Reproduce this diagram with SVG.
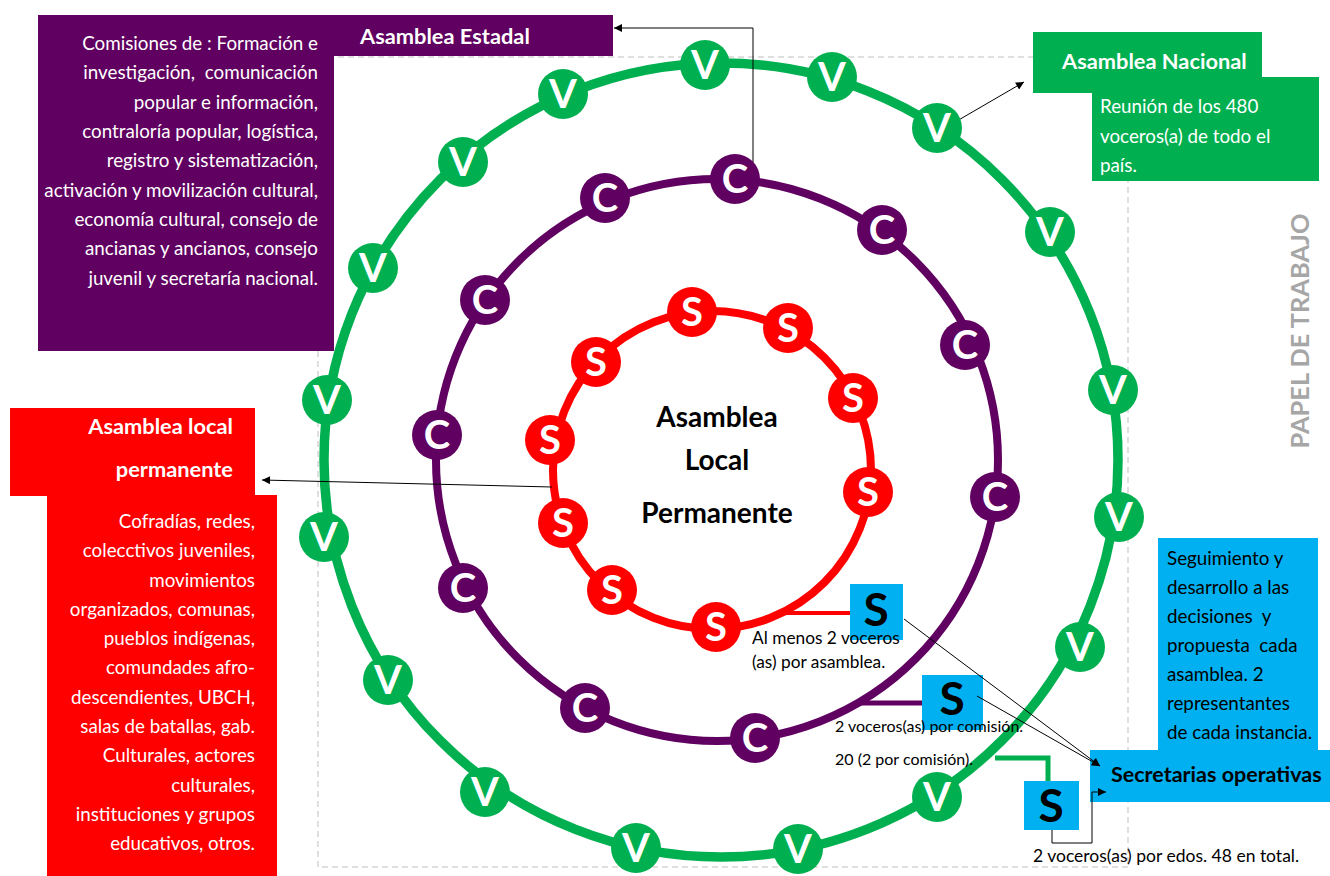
<svg xmlns="http://www.w3.org/2000/svg" width="1330" height="876" viewBox="0 0 1330 876">
<style>
.t{font-family:Lato,"Open Sans","Liberation Sans",sans-serif}
.b{font-weight:700}
.w{fill:#fff}
.k{fill:#000}
.txt{font-size:18.8px}
.hd{font-size:21.8px;font-weight:700}
.nl{font-family:Lato,"Open Sans","Liberation Sans",sans-serif;font-weight:700;font-size:40px;fill:#fff;text-anchor:middle}
.vn circle{fill:#00B050}
.cn circle{fill:#600060}
.sn circle{fill:#FF0000}
.sq rect{fill:#00B0F0}
.sq text{font-family:Lato,"Open Sans","Liberation Sans",sans-serif;font-weight:700;font-size:46px;fill:#000;text-anchor:middle}
.ln{fill:none;stroke:#000;stroke-width:1}
.end{text-anchor:end}
</style>
<defs>
<marker id="ah" viewBox="0 0 10 10" refX="10" refY="5" markerWidth="10" markerHeight="8" orient="auto" markerUnits="userSpaceOnUse"><path d="M0,0 L10,5 L0,10 z" fill="#000"/></marker>
</defs>
<rect width="1330" height="876" fill="#fff"/>
<rect x="318" y="57" width="810" height="810" fill="none" stroke="#BFBFBF" stroke-width="1" stroke-dasharray="6,4"/>
<text class="t b" x="0" y="0" transform="translate(1309,331) rotate(-90)" text-anchor="middle" font-size="25.4" fill="#A6A6A6">PAPEL DE TRABAJO</text>

<g id="rings" fill="none">
<circle id="ring-green" cx="721" cy="460" r="397" stroke="#00B050" stroke-width="9.5"/>
<circle id="ring-purple" cx="717" cy="460" r="281" stroke="#600060" stroke-width="8"/>
<circle id="ring-red" cx="712" cy="470" r="159" stroke="#FF0000" stroke-width="8"/>
</g>

<g id="connectors">
<path class="ln" d="M753,162 V28 H614" marker-end="url(#ah)"/>
<path class="ln" d="M950,125 L1024,82" marker-end="url(#ah)"/>
<path class="ln" d="M552,487 L262,480" marker-end="url(#ah)"/>
<path d="M781,613 H851" stroke="#FF0000" stroke-width="4" fill="none"/>
<path d="M858,703 H923" stroke="#600060" stroke-width="5" fill="none"/>
<path d="M995,758 H1048 V782" stroke="#00B050" stroke-width="5" fill="none"/>
</g>

<g id="local-box">
<rect x="10" y="408" width="245" height="88" fill="#FF0000"/>
<rect x="47" y="495" width="230" height="381" fill="#FF0000"/>
<text class="t hd w end" x="233" y="434">Asamblea local</text>
<text class="t hd w end" x="233" y="477">permanente</text>
<g class="t txt w end">
<text x="255" y="528">Cofradías, redes,</text>
<text x="255" y="557">colecctivos juveniles,</text>
<text x="255" y="587">movimientos</text>
<text x="255" y="616">organizados, comunas,</text>
<text x="255" y="645">pueblos indígenas,</text>
<text x="255" y="674">comundades afro-</text>
<text x="255" y="704">descendientes, UBCH,</text>
<text x="255" y="733">salas de batallas, gab.</text>
<text x="255" y="762">Culturales, actores</text>
<text x="255" y="792">culturales,</text>
<text x="255" y="821">instituciones y grupos</text>
<text x="255" y="850">educativos, otros.</text>
</g>
</g>

<g id="estadal-box">
<rect x="38" y="15" width="296" height="336" fill="#600060"/>
<rect x="333" y="15" width="280" height="41" fill="#600060"/>
<text class="t hd w" x="360" y="44">Asamblea Estadal</text>
<g class="t txt w end">
<text x="318" y="50">Comisiones de : Formación e</text>
<text x="318" y="79" xml:space="preserve">investigación,  comunicación</text>
<text x="318" y="109">popular e información,</text>
<text x="318" y="138">contraloría popular, logística,</text>
<text x="318" y="167">registro y sistematización,</text>
<text x="318" y="197">activación y movilización cultural,</text>
<text x="318" y="226">economía cultural, consejo de</text>
<text x="318" y="255">ancianas y ancianos, consejo</text>
<text x="318" y="285">juvenil y secretaría nacional.</text>
</g>
</g>

<g id="nacional-box">
<rect x="1092" y="77" width="227" height="104" fill="#00B050"/>
<rect x="1033" y="32" width="229" height="61" fill="#00B050"/>
<text class="t hd w" x="1062" y="69">Asamblea Nacional</text>
<g class="t txt w">
<text x="1100" y="113">Reunión de los 480</text>
<text x="1100" y="143">voceros(a) de todo el</text>
<text x="1100" y="172">país.</text>
</g>
</g>

<g id="secretarias-box">
<rect x="1158" y="538" width="160" height="213" fill="#00B0F0"/>
<rect x="1090" y="750" width="240" height="52" fill="#00B0F0"/>
<text class="t b k" font-size="21.5" x="1111" y="782">Secretarias operativas</text>
<g class="t txt k">
<text x="1167" y="565">Seguimiento y</text>
<text x="1167" y="594">desarrollo a las</text>
<text x="1167" y="623" xml:space="preserve">decisiones  y</text>
<text x="1167" y="652" xml:space="preserve">propuesta  cada</text>
<text x="1167" y="681">asamblea. 2</text>
<text x="1167" y="710">representantes</text>
<text x="1167" y="739">de cada instancia.</text>
</g>
</g>

<g id="center-label" class="t b k" font-size="28" text-anchor="middle">
<text x="717" y="427">Asamblea</text>
<text x="717" y="470">Local</text>
<text x="717" y="523">Permanente</text>
</g>

<g id="v-nodes" class="vn">
<g id="v01"><circle cx="705" cy="65" r="25"/><text class="nl" x="705" y="79">V</text></g>
<g id="v02"><circle cx="832" cy="77" r="25"/><text class="nl" x="832" y="91">V</text></g>
<g id="v03"><circle cx="937" cy="128" r="25"/><text class="nl" x="937" y="142">V</text></g>
<g id="v04"><circle cx="1050" cy="232" r="25"/><text class="nl" x="1050" y="246">V</text></g>
<g id="v05"><circle cx="1113" cy="390" r="25"/><text class="nl" x="1113" y="404">V</text></g>
<g id="v06"><circle cx="1119" cy="517" r="25"/><text class="nl" x="1119" y="531">V</text></g>
<g id="v07"><circle cx="1080" cy="647" r="25"/><text class="nl" x="1080" y="661">V</text></g>
<g id="v08"><circle cx="937" cy="797" r="25"/><text class="nl" x="937" y="811">V</text></g>
<g id="v09"><circle cx="798" cy="849" r="25"/><text class="nl" x="798" y="863">V</text></g>
<g id="v10"><circle cx="636" cy="848" r="25"/><text class="nl" x="636" y="862">V</text></g>
<g id="v11"><circle cx="485" cy="792" r="25"/><text class="nl" x="485" y="806">V</text></g>
<g id="v12"><circle cx="388" cy="680" r="25"/><text class="nl" x="388" y="694">V</text></g>
<g id="v13"><circle cx="324" cy="537" r="25"/><text class="nl" x="324" y="551">V</text></g>
<g id="v14"><circle cx="327" cy="400" r="25"/><text class="nl" x="327" y="414">V</text></g>
<g id="v15"><circle cx="373" cy="268" r="25"/><text class="nl" x="373" y="282">V</text></g>
<g id="v16"><circle cx="463" cy="162" r="25"/><text class="nl" x="463" y="176">V</text></g>
<g id="v17"><circle cx="563" cy="94" r="25"/><text class="nl" x="563" y="108">V</text></g>
</g>

<g id="c-nodes" class="cn">
<g id="c01"><circle cx="735" cy="179" r="25"/><text class="nl" x="735" y="193">C</text></g>
<g id="c02"><circle cx="882" cy="230" r="25"/><text class="nl" x="882" y="244">C</text></g>
<g id="c03"><circle cx="965" cy="345" r="25"/><text class="nl" x="965" y="359">C</text></g>
<g id="c04"><circle cx="995" cy="497" r="25"/><text class="nl" x="995" y="511">C</text></g>
<g id="c05"><circle cx="755" cy="738" r="25"/><text class="nl" x="755" y="752">C</text></g>
<g id="c06"><circle cx="585" cy="708" r="25"/><text class="nl" x="585" y="722">C</text></g>
<g id="c07"><circle cx="463" cy="588" r="25"/><text class="nl" x="463" y="602">C</text></g>
<g id="c08"><circle cx="437" cy="435" r="25"/><text class="nl" x="437" y="449">C</text></g>
<g id="c09"><circle cx="485" cy="300" r="25"/><text class="nl" x="485" y="314">C</text></g>
<g id="c10"><circle cx="605" cy="198" r="25"/><text class="nl" x="605" y="212">C</text></g>
</g>

<g id="s-nodes" class="sn">
<g id="s01"><circle cx="692" cy="312" r="25"/><text class="nl" x="692" y="326">S</text></g>
<g id="s02"><circle cx="788" cy="328" r="25"/><text class="nl" x="788" y="342">S</text></g>
<g id="s03"><circle cx="853" cy="398" r="25"/><text class="nl" x="853" y="412">S</text></g>
<g id="s04"><circle cx="868" cy="492" r="25"/><text class="nl" x="868" y="506">S</text></g>
<g id="s05"><circle cx="716" cy="627" r="25"/><text class="nl" x="716" y="641">S</text></g>
<g id="s06"><circle cx="612" cy="590" r="25"/><text class="nl" x="612" y="604">S</text></g>
<g id="s07"><circle cx="563" cy="523" r="25"/><text class="nl" x="563" y="537">S</text></g>
<g id="s08"><circle cx="550" cy="440" r="25"/><text class="nl" x="550" y="454">S</text></g>
<g id="s09"><circle cx="596" cy="362" r="25"/><text class="nl" x="596" y="376">S</text></g>
</g>

<g id="sq1" class="sq"><rect x="850" y="584" width="53" height="56"/><text x="876" y="626">S</text></g>
<g id="sq2" class="sq"><rect x="922" y="675" width="61" height="55"/><text x="952" y="715">S</text></g>
<g id="sq3" class="sq"><rect x="1024" y="781" width="55" height="49"/><text x="1051" y="822">S</text></g>

<g id="connectors-2">
<path class="ln" d="M904,619 L1100,766" marker-end="url(#ah)"/>
<path class="ln" d="M977,696 L1100,766" marker-end="url(#ah)"/>
<path class="ln" d="M1052,830 V843 H1092 V792 H1106" marker-end="url(#ah)"/>
</g>

<g id="labels" class="t k">
<text x="752" y="644" font-size="17.3">Al menos 2 voceros</text>
<text x="752" y="668" font-size="17.3">(as) por asamblea.</text>
<text x="835" y="732" font-size="16">2 voceros(as) por comisión.</text>
<text x="835" y="765" font-size="16">20 (2 por comisión).</text>
<text x="1033" y="862" font-size="17.5">2 voceros(as) por edos. 48 en total.</text>
</g>
</svg>
